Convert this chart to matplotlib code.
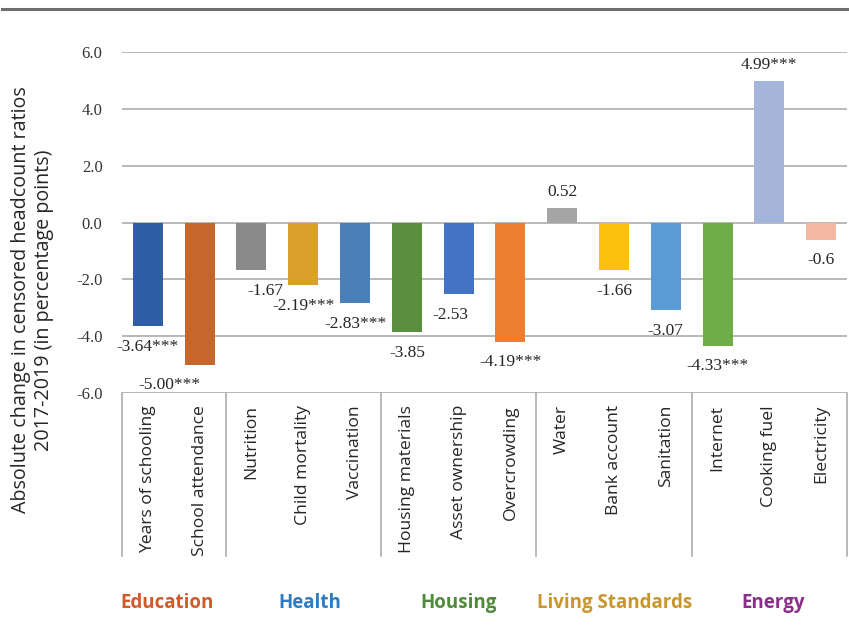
import matplotlib
matplotlib.use("Agg")
import matplotlib.pyplot as plt
from matplotlib.transforms import blended_transform_factory
from matplotlib.lines import Line2D

# ---- data ----
categories = ["Years of schooling", "School attendance",
              "Nutrition", "Child mortality", "Vaccination",
              "Housing materials", "Asset ownership", "Overcrowding",
              "Water", "Bank account", "Sanitation",
              "Internet", "Cooking fuel", "Electricity"]
values = [-3.64, -5.00, -1.67, -2.19, -2.83, -3.85, -2.53, -4.19,
          0.52, -1.66, -3.07, -4.33, 4.99, -0.6]
value_labels = ["-3.64***", "-5.00***", "-1.67", "-2.19***", "-2.83***",
                "-3.85", "-2.53", "-4.19***", "0.52", "-1.66", "-3.07",
                "-4.33***", "4.99***", "-0.6"]
groups = ["Education", "Health", "Housing", "Living Standards", "Energy"]
group_sizes = [2, 3, 3, 3, 3]
yticks = [6.0, 4.0, 2.0, 0.0, -2.0, -4.0, -6.0]

# ---- styles ----
bar_colors = ["#2F5DA6", "#C5672B", "#8A8A8A", "#D9A12C", "#4A7FB7",
              "#5A8F3D", "#4472C4", "#ED7D31", "#A5A5A5", "#FCC10F",
              "#5B9BD5", "#70AD47", "#A5B4D9", "#F4B8A2"]
group_colors = ["#D2592A", "#2E7BC2", "#4E8A3A", "#C9962C", "#8A2E8A"]
label_dx = [0, -22, 10, 0, 0, 0, -6, 0, 0, 0, 0, 0, 0, 0]  # points

W, H = 849, 637
fig = plt.figure(figsize=(W / 100, H / 100), dpi=100)
ax_l, ax_r, ax_t, ax_b = 122, 847, 52, 393
ax = fig.add_axes([ax_l / W, 1 - ax_b / H, (ax_r - ax_l) / W, (ax_b - ax_t) / H])

x = list(range(len(categories)))
ax.set_xlim(-0.5, len(categories) - 0.5)
ax.set_ylim(-6, 6)

for yv in yticks:
    ax.axhline(yv, color="#A6A6A6", lw=1.1, zorder=1)

ax.bar(x, values, width=0.58, color=bar_colors, zorder=3)

serif = "Liberation Serif"
for i, (v, lab) in enumerate(zip(values, value_labels)):
    dy = 11 if v > 0 else -15
    ax.annotate(lab, (i, v), xytext=(label_dx[i], dy), textcoords="offset points",
                ha="center", va="center", fontsize=12.5, family=serif,
                color="#262626", zorder=4)

for s in ax.spines.values():
    s.set_visible(False)
ax.set_xticks([])
ax.set_yticks(yticks)
ax.set_yticklabels([f"{t:.1f}" for t in yticks], family=serif, fontsize=12,
                   color="#333333")
ax.tick_params(axis="y", length=0, pad=14)

# category box
trans = blended_transform_factory(ax.transData, ax.transAxes)
box_depth = (556 - ax_b) / (ax_b - ax_t)
bounds = [-0.5]
for g in group_sizes:
    bounds.append(bounds[-1] + g)
for b in bounds:
    ax.add_line(Line2D([b, b], [0, -box_depth], transform=trans, color="#A6A6A6",
                       lw=1.1, clip_on=False))

cat_top = -(405 - ax_b) / (ax_b - ax_t)
for i, c in enumerate(categories):
    ax.text(i, cat_top, c, transform=trans, rotation=90, ha="center", va="top",
            fontsize=12.6, family="Open Sans", color="#262626")

# group labels
grp_y = 1 - 603 / H
grp_x = [167, 310, 459, 615, 773]
for gx, g, gc in zip(grp_x, groups, group_colors):
    fig.text(gx / W, grp_y, g, ha="center", va="center", fontsize=13.5,
             fontweight="bold", family="Open Sans", color=gc)

# y label
fig.text(33 / W, 1 - 300 / H,
         "Absolute change in censored headcount ratios\n2017-2019 (in percentage points)",
         rotation=90, ha="center", va="center", multialignment="center",
         fontsize=14.2, family="Open Sans", color="#262626", linespacing=1.2)

# top rule
fig.add_artist(Line2D([2 / W, 1], [1 - 9 / H, 1 - 9 / H], transform=fig.transFigure,
                      color="#6E6E6E", lw=2.2))

fig.savefig("out.png", dpi=100)
